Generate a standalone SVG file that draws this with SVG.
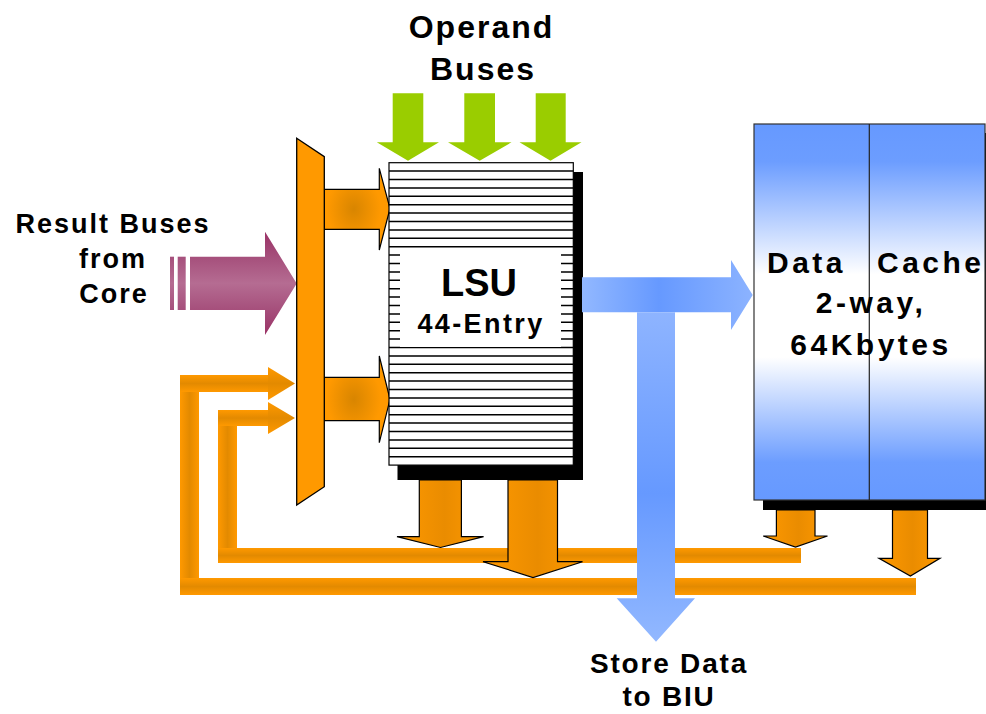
<svg xmlns="http://www.w3.org/2000/svg" width="986" height="714" viewBox="0 0 986 714">
<style>
.t{font-family:"Liberation Sans",Arial,sans-serif;font-weight:bold;fill:#000;text-anchor:middle}
.green{fill:#9ACD00}
.ob{stroke:#000;stroke-width:1.2}
</style>
<defs>
<radialGradient id="gMuxArr" cx="0.45" cy="0.5" r="0.55">
<stop offset="0" stop-color="#D88500"/><stop offset="0.75" stop-color="#FF9900"/></radialGradient>
<linearGradient id="gDown" x1="0" y1="0" x2="1" y2="0">
<stop offset="0" stop-color="#FF9900"/><stop offset="0.55" stop-color="#EA8C00"/><stop offset="1" stop-color="#FF9900"/></linearGradient>
<linearGradient id="gBarH" x1="0" y1="0" x2="0" y2="1">
<stop offset="0" stop-color="#FF9900"/><stop offset="0.5" stop-color="#E38A00"/><stop offset="1" stop-color="#FF9900"/></linearGradient>
<linearGradient id="gBarV" x1="0" y1="0" x2="1" y2="0">
<stop offset="0" stop-color="#FF9900"/><stop offset="0.5" stop-color="#E38A00"/><stop offset="1" stop-color="#FF9900"/></linearGradient>
<linearGradient id="gPurple" x1="0" y1="0" x2="0" y2="1">
<stop offset="0" stop-color="#9A3266"/><stop offset="0.25" stop-color="#A6507C"/><stop offset="0.5" stop-color="#B56C92"/><stop offset="0.75" stop-color="#A6507C"/><stop offset="1" stop-color="#9A3266"/></linearGradient>
<linearGradient id="gPurpleS" x1="0" y1="0" x2="0" y2="1">
<stop offset="0" stop-color="#A6507C"/><stop offset="0.5" stop-color="#B56C92"/><stop offset="1" stop-color="#A6507C"/></linearGradient>
<linearGradient id="gCache" x1="0" y1="0" x2="0" y2="1">
<stop offset="0" stop-color="#6699FF"/><stop offset="0.1" stop-color="#6C9DFF"/><stop offset="0.4" stop-color="#FFFFFF"/><stop offset="0.62" stop-color="#FFFFFF"/><stop offset="0.9" stop-color="#6C9DFF"/><stop offset="1" stop-color="#6699FF"/></linearGradient>
<linearGradient id="gBlueH" gradientUnits="userSpaceOnUse" x1="582" y1="0" x2="753" y2="0">
<stop offset="0" stop-color="#92B8FF"/><stop offset="0.45" stop-color="#6699FF"/><stop offset="1" stop-color="#8CB3FF"/></linearGradient>
<linearGradient id="gBlueV" gradientUnits="userSpaceOnUse" x1="0" y1="312" x2="0" y2="642">
<stop offset="0" stop-color="#8EB4FF"/><stop offset="0.55" stop-color="#6699FF"/><stop offset="1" stop-color="#92B8FF"/></linearGradient>
</defs>

<g id="connectors">
<!-- feedback loops -->
<g id="loop-outer" fill="url(#gBarH)">
<rect x="180" y="375" width="19" height="220" fill="url(#gBarV)"/>
<rect x="180" y="375" width="89" height="17"/>
<polygon points="268,367 295,383.5 268,400"/>
<rect x="180" y="578" width="736" height="17"/>
</g>
<g id="loop-inner" fill="url(#gBarH)">
<rect x="218" y="410" width="19" height="153" fill="url(#gBarV)"/>
<rect x="218" y="410" width="51" height="16"/>
<polygon points="268,402 295,418 268,434"/>
<rect x="218" y="548" width="583" height="15"/>
</g>
<!-- result buses arrow -->
<g id="result-arrow">
<rect x="170" y="256.7" width="4" height="53.3" fill="url(#gPurpleS)"/>
<rect x="177.7" y="256.7" width="8" height="53.3" fill="url(#gPurpleS)"/>
<path d="M190,256.7 H265 V231.7 L296.7,283.5 L265,335 V310 H190 Z" fill="url(#gPurple)"/>
</g>
<!-- operand buses -->
<g id="operand-arrows" class="green">
<path d="M392.7,93.3 H423.3 V142.3 H439 L408,160.7 L376.8,142.3 H392.7 Z"/>
<path d="M464.3,93.3 H495 V142.3 H511.5 L479.7,160.7 L448,142.3 H464.3 Z"/>
<path d="M535.7,93.3 H565.7 V142.3 H581.5 L550.5,160.7 L519.5,142.3 H535.7 Z"/>
</g>
<!-- mux to LSU -->
<g id="mux-arrows" fill="url(#gMuxArr)" class="ob">
<path d="M324.3,189.3 H379.3 V168.3 L390,208.5 L379.3,250 V229.3 H324.3 Z"/>
<path d="M324.3,377.3 H379.3 V356 L390,399.3 L379.3,442.7 V420.7 H324.3 Z"/>
</g>
</g>

<g id="mux">
<polygon points="296.7,138.3 324.3,156.7 324.3,486.7 296.7,505" fill="#FF9900" stroke="#000" stroke-width="1.3"/>
</g>

<g id="lsu">
<rect x="397.5" y="172" width="185.5" height="308" fill="#000"/>
<rect x="389" y="162.7" width="184.3" height="302.4" fill="#FFF" stroke="#000" stroke-width="1.2"/>
<path stroke="#000" stroke-width="1.5" fill="none" d="M389,171.1H573.3M389,179.5H573.3M389,187.9H573.3M389,196.3H573.3M389,204.7H573.3M389,213.1H573.3M389,221.5H573.3M389,229.9H573.3M389,238.3H573.3M389,246.7H573.3M389,255.1H573.3M389,263.5H573.3M389,271.9H573.3M389,280.3H573.3M389,288.7H573.3M389,297.1H573.3M389,305.5H573.3M389,313.9H573.3M389,322.3H573.3M389,330.7H573.3M389,339.1H573.3M389,347.5H573.3M389,355.9H573.3M389,364.3H573.3M389,372.7H573.3M389,381.1H573.3M389,389.5H573.3M389,397.9H573.3M389,406.3H573.3M389,414.7H573.3M389,423.1H573.3M389,431.5H573.3M389,439.9H573.3M389,448.3H573.3M389,456.7H573.3"/>
<rect x="400" y="248" width="161" height="99" fill="#FFF"/>
<text class="t" x="479" y="296" font-size="38">LSU</text>
<text class="t" x="481" y="333" font-size="27" letter-spacing="2.4">44-Entry</text>
</g>

<g id="lsu-out" fill="url(#gDown)" class="ob">
<path d="M419.3,480 H461.4 V536.7 H483.6 L440.5,547.5 L397,536.7 H419.3 Z"/>
<path d="M508,480 H557.5 V561.7 H582.5 L533,577.5 L483,561.7 H508 Z"/>
</g>

<g id="store-arrow">
<path d="M582,277.3 H731 V260 L752.7,295 L731,330 V312.3 H582 Z" fill="url(#gBlueH)"/>
<path d="M637,312.3 H675 V598.3 H695 L656,641.7 L616.7,598.3 H637 Z" fill="url(#gBlueV)"/>
</g>

<g id="cache">
<rect x="763" y="133" width="240" height="377" fill="#000"/>
<rect x="754" y="124" width="231" height="376" fill="url(#gCache)" stroke="#333" stroke-width="1.2"/>
<line x1="869.3" y1="124" x2="869.3" y2="500" stroke="#222" stroke-width="1.2"/>
<text class="t" y="273" font-size="30" letter-spacing="3.5" style="text-anchor:start"><tspan x="767">Data</tspan><tspan x="877">Cache</tspan></text>
<text class="t" x="871" y="313" font-size="30" letter-spacing="3.5">2-way,</text>
<text class="t" x="871" y="355" font-size="30" letter-spacing="3.5">64Kbytes</text>
</g>

<g id="cache-out" fill="url(#gDown)" class="ob">
<path d="M776.4,510 H815 V536 H827.5 L795.5,547 L763.2,536 H776.4 Z"/>
<path d="M892.5,510 H927.5 V558.3 H940 L910.4,576 L879,558.3 H892.5 Z"/>
</g>

<g id="labels">
<text class="t" x="481.5" y="38" font-size="32" letter-spacing="2">Operand</text>
<text class="t" x="483" y="80" font-size="32" letter-spacing="2">Buses</text>
<text class="t" x="113" y="233" font-size="27" letter-spacing="2">Result Buses</text>
<text class="t" x="113" y="268" font-size="27" letter-spacing="2">from</text>
<text class="t" x="114" y="303" font-size="27" letter-spacing="2">Core</text>
<text class="t" x="669" y="673" font-size="28" letter-spacing="1.8">Store Data</text>
<text class="t" x="669" y="706" font-size="28" letter-spacing="1.8">to BIU</text>
</g>
</svg>
